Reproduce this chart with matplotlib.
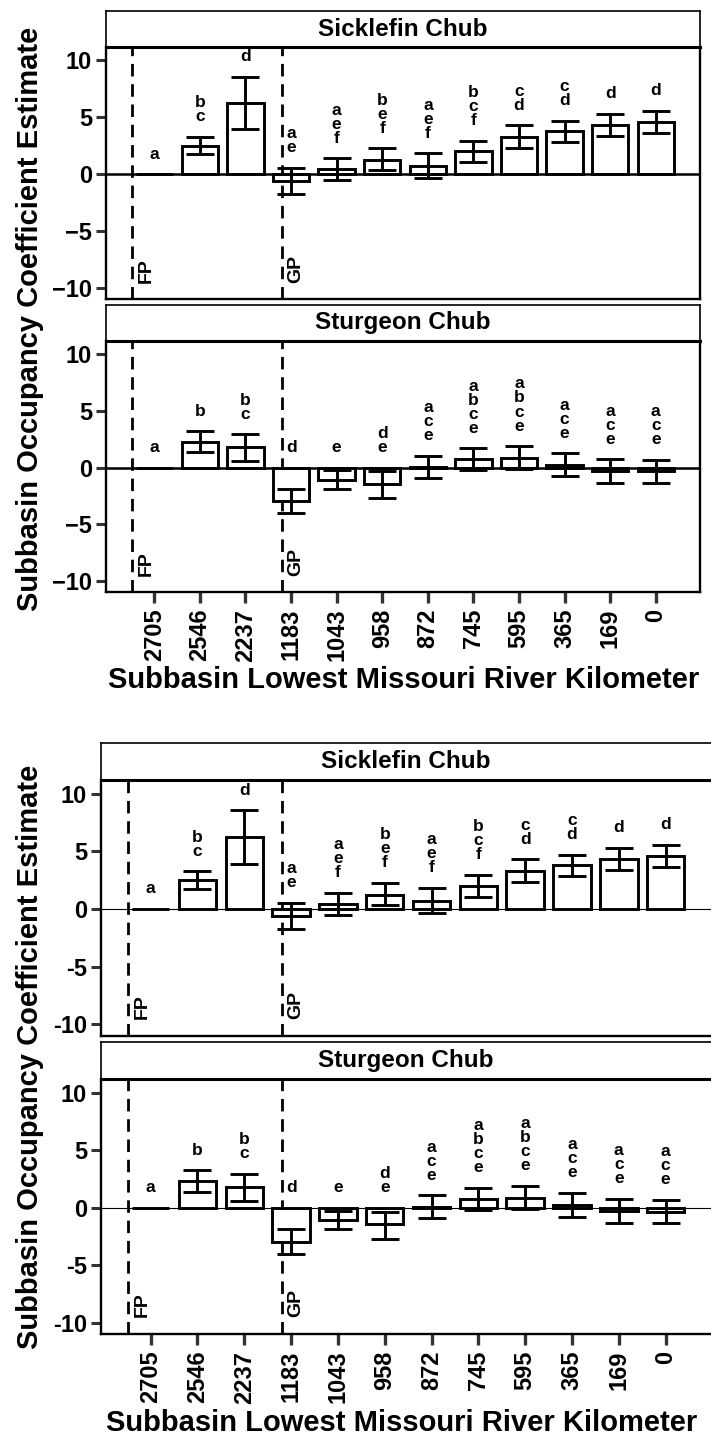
import numpy as np
import matplotlib
matplotlib.use("Agg")
import matplotlib.pyplot as plt

plt.rcParams['font.family'] = ['Liberation Sans', 'DejaVu Sans']
plt.rcParams['font.weight'] = 'bold'

# subbasin lowest river kilometer (x categories)
rkm = ['2705', '2546', '2237', '1183', '1043', '958', '872', '745', '595', '365', '169', '0']
species = ['Sicklefin Chub', 'Sturgeon Chub']

# Sicklefin chub: estimate, lower / upper error bar, letters
sick_est = [0, 2.5, 6.25, -0.6, 0.43, 1.25, 0.72, 2.0, 3.3, 3.8, 4.35, 4.6]
sick_lo = [np.nan, 1.73, 3.94, -1.73, -0.53, 0.35, -0.38, 1.08, 2.32, 2.85, 3.35, 3.64]
sick_hi = [np.nan, 3.26, 8.55, 0.56, 1.38, 2.26, 1.82, 2.94, 4.3, 4.7, 5.29, 5.55]
sick_letters = ['a', 'bc', 'd', 'ae', 'aef', 'bef', 'aef', 'bcf', 'cd', 'cd', 'd', 'd']

# Sturgeon chub
stur_est = [0, 2.29, 1.8, -2.96, -1.08, -1.45, 0.06, 0.75, 0.85, 0.25, -0.32, -0.35]
stur_lo = [np.nan, 1.35, 0.59, -4.01, -1.9, -2.7, -0.94, -0.2, -0.14, -0.79, -1.37, -1.37]
stur_hi = [np.nan, 3.23, 2.96, -1.9, -0.26, -0.35, 1.06, 1.7, 1.9, 1.26, 0.73, 0.68]
stur_letters = ['a', 'b', 'bc', 'd', 'e', 'de', 'ace', 'abce', 'abce', 'ace', 'ace', 'ace']

# dam boundaries (Fort Peck, Gavins Point)
dam_x = [0.52, 3.8]
dam_names = ['FP', 'GP']

W, H = 711, 1439
fig = plt.figure(figsize=(W / 100, H / 100), dpi=100)


def box(l, r, t, b):
    return [l / W, 1 - b / H, (r - l) / W, (b - t) / H]


def draw_copy(left, right, rows, minus, zero_lw, cut_right, ylab_y, xlab_y):
    data = [(sick_est, sick_lo, sick_hi, sick_letters),
            (stur_est, stur_lo, stur_hi, stur_letters)]
    x = np.arange(1, len(rkm) + 1)
    for k, (strip_top, top, bottom) in enumerate(rows):
        st = fig.add_axes(box(left, right, strip_top, top))
        st.set_xticks([])
        st.set_yticks([])
        for s in st.spines.values():
            s.set_linewidth(1.2)
        if cut_right:
            st.spines['right'].set_visible(False)
        st.text(0.5, 0.5, species[k], transform=st.transAxes, ha='center',
                va='center', fontsize=17.5, fontweight='bold')

        est, lo, hi, letters = data[k]
        est = np.array(est)
        lo = np.array(lo)
        hi = np.array(hi)
        ax = fig.add_axes(box(left, right, top, bottom))
        ax.bar(x, est, width=0.8, facecolor='white', edgecolor='black', linewidth=2.1, zorder=2)
        ok = ~np.isnan(lo)
        ax.errorbar(x[ok], est[ok], yerr=[est[ok] - lo[ok], hi[ok] - est[ok]], fmt='none',
                    ecolor='black', elinewidth=2.1, capsize=10, capthick=2.1, zorder=3)
        ax.axhline(0, color='black', lw=zero_lw, zorder=4)
        for dx, nm in zip(dam_x, dam_names):
            ax.axvline(dx, color='black', lw=2.0, ls=(0, (4.5, 2.8)), zorder=1)
            ax.text(dx + 0.12, -9.55, nm, rotation=90, ha='left', va='bottom',
                    fontsize=14, fontweight='bold')
        top_val = np.maximum(np.nan_to_num(hi), 0)
        for xi, yv, lt in zip(x, top_val, letters):
            ax.text(xi, yv + 1.1, '\n'.join(lt), ha='center', va='bottom',
                    fontsize=12.5, fontweight='bold', linespacing=0.92)

        ax.set_xlim(-0.06, 12.97)
        ax.set_ylim(-11.0, 11.18)
        ax.set_yticks([-10, -5, 0, 5, 10])
        ax.set_yticklabels([('\u2212' if minus else '-') + '10', ('\u2212' if minus else '-') + '5',
                            '0', '5', '10'])
        ax.tick_params(axis='y', length=7, width=2.2, color='#333333', pad=3, labelsize=17)
        if k == 0:
            ax.set_xticks([])
        else:
            ax.set_xticks(x)
            ax.set_xticklabels(rkm, rotation=90)
            ax.tick_params(axis='x', length=8, width=2.4, color='#333333', pad=4, labelsize=17)
        for s in ax.spines.values():
            s.set_linewidth(1.7)
        ax.spines['top'].set_linewidth(2.2)
        if cut_right:
            ax.spines['right'].set_visible(False)

    fig.text(30 / W, 1 - ylab_y / H, 'Subbasin Occupancy Coefficient Estimate', rotation=90,
             ha='center', va='center', fontsize=21, fontweight='bold')
    fig.text(((left + min(right, 700)) / 2 + 1) / W, 1 - xlab_y / H,
             'Subbasin Lowest Missouri River Kilometer', ha='center', va='baseline',
             fontsize=21, fontweight='bold')


draw_copy(106, 700, [(11, 47, 299), (305, 341, 592)], True, 1.8, False, 319, 688)
draw_copy(101, 711, [(743, 780, 1036), (1042, 1079, 1334)], False, 0.8, True, 1057, 1431)

fig.savefig('out.png', dpi=100)
